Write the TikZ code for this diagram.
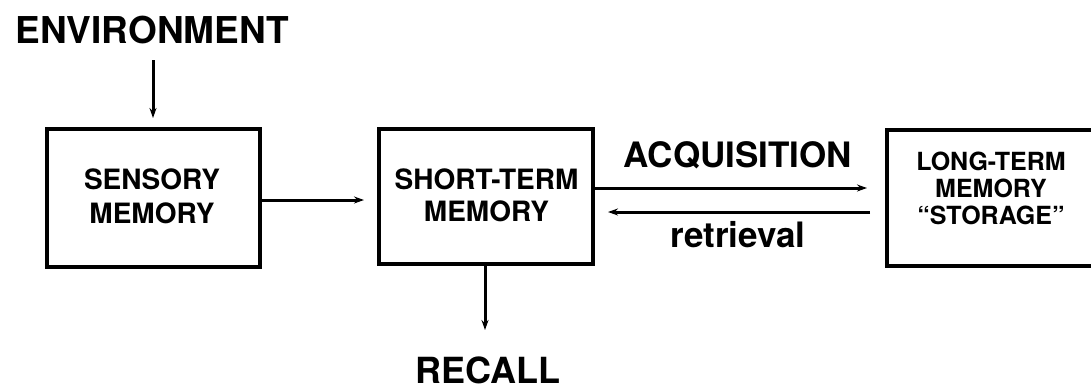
\documentclass[tikz,border=0pt]{standalone}
\usepackage{fontspec}
\setmainfont{TeX Gyre Heros}
\usetikzlibrary{arrows.meta}
\begin{document}
\begin{tikzpicture}[x=1bp,y=-1bp,
  box/.style={draw,line width=4bp,inner sep=0pt},
  lbl/.style={anchor=base,inner sep=0pt,align=center},
  conn/.style={line width=3bp,-{Stealth[length=10bp,width=7bp]}},
  big/.style={font=\bfseries\fontsize{37bp}{40bp}\selectfont},
  mid/.style={font=\bfseries\fontsize{35bp}{40bp}\selectfont},
  inbox/.style={font=\bfseries\fontsize{28bp}{34bp}\selectfont},
  inboxs/.style={font=\bfseries\fontsize{25bp}{27bp}\selectfont}]
\useasboundingbox (0,0) rectangle (1091,389);
\clip (0,0) rectangle (1091,389);
% boxes
\node[box,minimum width=213bp,minimum height=138bp] (sens) at (153.5,198) {};
\node[box,minimum width=214bp,minimum height=135bp] (stm) at (486,196.5) {};
\node[box,minimum width=214bp,minimum height=136bp] (ltm) at (994,198) {};
% box texts (anchor base = last line's baseline)
\node[lbl,inbox] (senst) at (152,223) {SENSORY\\MEMORY};
\node[lbl,font=\bfseries\fontsize{28bp}{32bp}\selectfont] (stmt) at (486.5,221) {SHORT-TERM\\MEMORY};
\node[lbl,inboxs] (ltmt) at (991,224) {LONG-TERM\\MEMORY\\“STORAGE”};
% outer labels
\node[lbl,big] (env) at (152,43) {ENVIRONMENT};
\node[lbl,mid] (acq) at (738,167) {ACQUISITION};
\node[lbl,mid] (ret) at (738,247) {retrieval};
\node[lbl,font=\bfseries\fontsize{36bp}{40bp}\selectfont] (rec) at (488,383) {RECALL};
% connectors
\coordinate (envbot) at (153,60);
\draw[conn,shorten >=9bp] (envbot) -- (sens.north -| envbot);
\draw[conn,shorten >=13bp] (sens.east |- 0,200) -- (stm.west |- 0,200);
\draw[conn,shorten >=18bp] (stm.east |- 0,188) -- (ltm.west |- 0,188);
\draw[conn,shorten <=15bp,shorten >=13bp] (ltm.west |- 0,212) -- (stm.east |- 0,212);
\coordinate (recend) at (485,330);
\draw[conn] (stm.south -| recend) -- (recend);
\end{tikzpicture}
\end{document}
